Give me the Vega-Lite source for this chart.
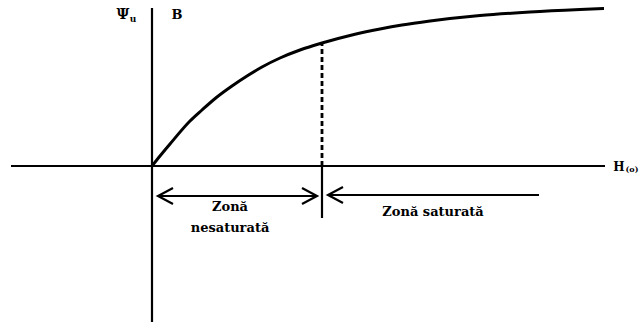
{
  "$schema": "https://vega.github.io/schema/vega-lite/v6.json",
  "width": 641,
  "height": 326,
  "padding": 0,
  "autosize": {"type": "none"},
  "background": "white",
  "config": {"view": {"stroke": null}},
  "datasets": {
    "curve": [
      {"h": 0, "psi": 0}, {"h": 8, "psi": 10}, {"h": 18, "psi": 22}, {"h": 38, "psi": 45},
      {"h": 50, "psi": 56}, {"h": 65, "psi": 69}, {"h": 80, "psi": 80}, {"h": 95, "psi": 90},
      {"h": 110, "psi": 99}, {"h": 128, "psi": 108}, {"h": 148, "psi": 116}, {"h": 170, "psi": 123},
      {"h": 200, "psi": 131}, {"h": 228, "psi": 137}, {"h": 250, "psi": 141}, {"h": 278, "psi": 145},
      {"h": 328, "psi": 150.5}, {"h": 378, "psi": 154}, {"h": 428, "psi": 156.5}, {"h": 452, "psi": 157.5}
    ],
    "segs": [
      {"seg": "xaxis", "o": 0, "h": -141, "psi": 0},
      {"seg": "xaxis", "o": 1, "h": 453, "psi": 0},
      {"seg": "yaxis", "o": 0, "h": 0, "psi": 158},
      {"seg": "yaxis", "o": 1, "h": 0, "psi": -156},
      {"seg": "tick", "o": 0, "h": 170, "psi": 0},
      {"seg": "tick", "o": 1, "h": 170, "psi": -52},
      {"seg": "a1", "o": 0, "h": 6, "psi": -30},
      {"seg": "a1", "o": 1, "h": 165, "psi": -30},
      {"seg": "a1l", "o": 0, "h": 21, "psi": -22},
      {"seg": "a1l", "o": 1, "h": 6, "psi": -30},
      {"seg": "a1l", "o": 2, "h": 21, "psi": -38},
      {"seg": "a1r", "o": 0, "h": 150, "psi": -22},
      {"seg": "a1r", "o": 1, "h": 165, "psi": -30},
      {"seg": "a1r", "o": 2, "h": 150, "psi": -38},
      {"seg": "a2", "o": 0, "h": 176, "psi": -29},
      {"seg": "a2", "o": 1, "h": 387, "psi": -29},
      {"seg": "a2l", "o": 0, "h": 191, "psi": -21},
      {"seg": "a2l", "o": 1, "h": 176, "psi": -29},
      {"seg": "a2l", "o": 2, "h": 191, "psi": -37}
    ],
    "dash": [
      {"h": 170, "psi": 0},
      {"h": 170, "psi": 123}
    ],
    "labels": [
      {"label": "Ψ", "h": -29, "psi": 151, "fs": 14},
      {"label": "u", "h": -19, "psi": 147, "fs": 9},
      {"label": "B", "h": 25, "psi": 151, "fs": 13},
      {"label": "H", "h": 467, "psi": -1, "fs": 12},
      {"label": "(o)", "h": 480, "psi": -4, "fs": 8},
      {"label": "Zonă", "h": 78, "psi": -41, "fs": 13},
      {"label": "nesaturată", "h": 78, "psi": -62, "fs": 13},
      {"label": "Zonă saturată", "h": 281, "psi": -46, "fs": 13}
    ]
  },
  "encoding": {
    "x": {"field": "h", "type": "quantitative", "axis": null, "scale": {"domain": [-152, 489], "nice": false, "zero": false}},
    "y": {"field": "psi", "type": "quantitative", "axis": null, "scale": {"domain": [-160, 166], "nice": false, "zero": false}}
  },
  "layer": [
    {
      "data": {"name": "segs"},
      "mark": {"type": "line", "color": "black", "strokeWidth": 2.2},
      "encoding": {"detail": {"field": "seg"}, "order": {"field": "o", "type": "quantitative"}}
    },
    {
      "data": {"name": "dash"},
      "mark": {"type": "line", "color": "black", "strokeWidth": 2.8, "strokeDash": [5, 3]},
      "encoding": {}
    },
    {
      "data": {"name": "curve"},
      "mark": {"type": "line", "color": "black", "strokeWidth": 3, "interpolate": "monotone"},
      "encoding": {}
    },
    {
      "data": {"name": "labels"},
      "mark": {"type": "text", "color": "black", "font": "DejaVu Serif", "fontWeight": "bold", "align": "center", "baseline": "middle"},
      "encoding": {
        "text": {"field": "label"},
        "size": {"field": "fs", "type": "quantitative", "scale": null}
      }
    }
  ]
}
